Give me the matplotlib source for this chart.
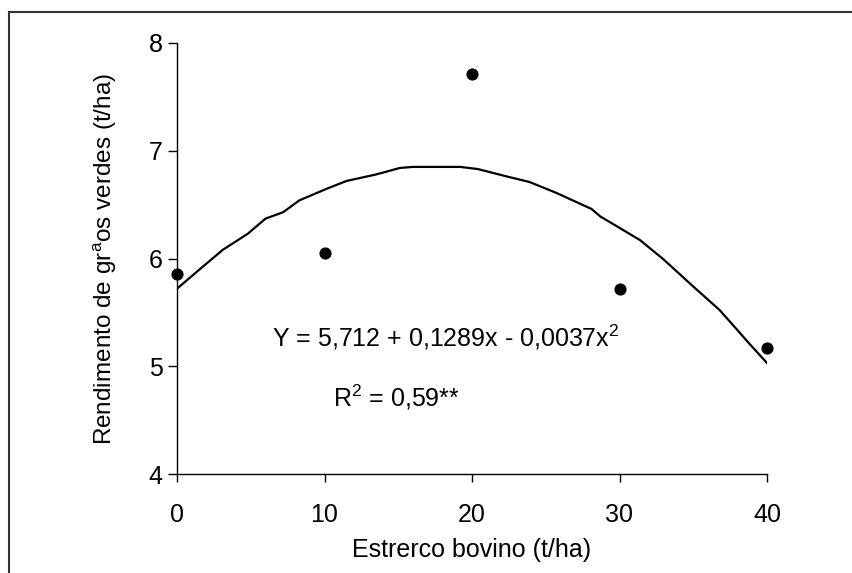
import matplotlib
matplotlib.use('Agg')
import matplotlib.pyplot as plt
from matplotlib.lines import Line2D

plt.rcParams['font.family'] = ['Liberation Sans', 'DejaVu Sans']

# dados observados
doses = [0, 10, 20, 30, 40]
rendimento = [5.86, 6.05, 7.71, 5.72, 5.17]

# curva ajustada
curva_x = [0, 1.8, 3.1, 4.8, 6.0, 7.2, 8.3, 10.2, 11.5, 13.5, 15.1, 16.0, 17.5, 19.2,
           20.4, 22.4, 23.9, 25.7, 28.1, 28.7, 30.3, 31.4, 33.0, 35.0, 36.8, 37.9, 38.8, 40.0]
curva_y = [5.72, 5.93, 6.08, 6.23, 6.37, 6.43, 6.54, 6.65, 6.72, 6.78, 6.84, 6.85, 6.85, 6.85,
           6.83, 6.76, 6.71, 6.61, 6.46, 6.39, 6.26, 6.17, 5.99, 5.74, 5.52, 5.35, 5.21, 5.03]

W, H = 852, 573
fig = plt.figure(figsize=(W / 100, H / 100), dpi=100)
ax = fig.add_axes([177 / W, 1 - 474 / H, 590 / W, 431 / H])

ax.plot(curva_x, curva_y, color='black', linewidth=1.6)
ax.scatter(doses, rendimento, s=60, color='black', zorder=3, clip_on=False)

ax.set_xlim(0, 40)
ax.set_ylim(4, 8)
ax.set_xticks([0, 10, 20, 30, 40])
ax.set_yticks([4, 5, 6, 7, 8])
ax.spines['top'].set_visible(False)
ax.spines['right'].set_visible(False)
for s in ['left', 'bottom']:
    ax.spines[s].set_linewidth(1.0)
ax.tick_params(axis='x', direction='out', length=6, width=1, labelsize=18, pad=15)
ax.tick_params(axis='y', direction='out', length=6.5, width=1, labelsize=18, pad=4)

ax.set_xlabel('Estrerco bovino (t/ha)', fontsize=18, labelpad=8)
ax.set_ylabel('Rendimento de gr$^{\\mathregular{a}}$os verdes (t/ha)', fontsize=17.5, labelpad=21)

ax.text(272 / W, 1 - 337 / H, 'Y = 5,712 + 0,1289x - 0,0037x$^{\\mathregular{2}}$', fontsize=18,
        transform=fig.transFigure, va='center')
ax.text(333 / W, 1 - 397 / H, 'R$^{\\mathregular{2}}$ = 0,59**', fontsize=18,
        transform=fig.transFigure, va='center')

# moldura
fig.add_artist(Line2D([9 / W, 9 / W], [0, 1 - 12 / H], color='#333333', linewidth=1.5))
fig.add_artist(Line2D([9 / W, 1], [1 - 12 / H, 1 - 12 / H], color='#333333', linewidth=1.5))

fig.savefig('out.png', dpi=100)
